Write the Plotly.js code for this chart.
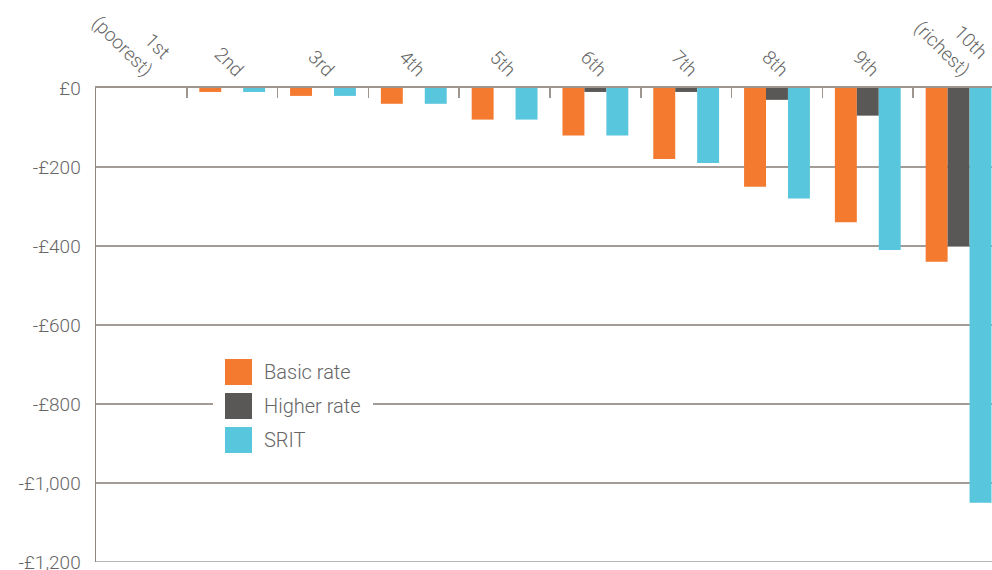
<!DOCTYPE html>
<html><head><meta charset="utf-8">
<script src="https://cdn.plot.ly/plotly-3.0.1.min.js"></script>
<style>html,body{margin:0;padding:0;background:#fff}#chart{width:992px;height:570px}</style>
</head><body><div id="chart"></div>
<script>
const deciles = ["1st<br>(poorest)","2nd","3rd","4th","5th","6th","7th","8th","9th","10th<br>(richest)"];
const basicRate = [0, -10, -20, -40, -80, -120, -180, -250, -340, -440];
const higherRate = [0, 0, 0, 0, 0, -10, -10, -30, -70, -400];
const srit = [0, -10, -20, -40, -80, -120, -190, -280, -410, -1050];
const seriesNames = ["Basic rate", "Higher rate", "SRIT"];
const seriesColors = ["#f47a30", "#5a5856", "#58c6dc"];
const yTickVals = [0, -200, -400, -600, -800, -1000, -1200];
const yTickText = ["£0", "-£200", "-£400", "-£600", "-£800", "-£1,000", "-£1,200"];

const seriesValues = [basicRate, higherRate, srit];
const traces = seriesValues.map((vals, i) => ({
  type: 'bar', x: deciles, y: vals, name: seriesNames[i],
  marker: {color: seriesColors[i]}, showlegend: false, hoverinfo: 'x+y'
}));

const W = 896, H = 474, L = 96, T = 88;
const px = v => (v - L) / W;
const py = v => (T + H - v) / H;
const shapes = [
  {type:'rect', xref:'paper', yref:'paper', x0:px(213), x1:px(373), y0:py(352), y1:py(460), fillcolor:'#fff', line:{width:0}, layer:'above'},
  {type:'line', xref:'paper', yref:'y', x0:0, x1:1, y0:-1200, y1:-1200, line:{color:'#a39b96', width:1.5}, layer:'below'}
];
const annotations = [];
seriesNames.forEach((n, i) => {
  const top = 359 + i * 34;
  shapes.push({type:'rect', xref:'paper', yref:'paper', x0:px(225), x1:px(252), y0:py(top), y1:py(top+26), fillcolor:seriesColors[i], line:{width:0}, layer:'above'});
  annotations.push({xref:'paper', yref:'paper', x:px(262), y:py(top+13), text:n, showarrow:false, xanchor:'left', yanchor:'middle', font:{size:20, color:'#666', family:'Roboto', weight:300}});
});

const layout = {
  width: 992, height: 570,
  margin: {l: L, r: 0, t: T, b: 8},
  paper_bgcolor: '#fff', plot_bgcolor: '#fff',
  barmode: 'group', bargap: 0.275, bargroupgap: 0,
  font: {family: 'Roboto', weight: 300, color: '#666', size: 19},
  xaxis: {
    type: 'category', side: 'top', range: [-0.5, 9.368],
    tickangle: 45, tickson: 'boundaries', ticks: 'inside', ticklen: 10, tickcolor: '#9e958f', tickwidth: 1.5,
    showline: true, linecolor: '#9e958f', linewidth: 2, showgrid: false,
    tickfont: {size: 19, color: '#666', family: 'Roboto', weight: 300}, automargin: false,
    ticklabelstandoff: -2, ticklabelshift: 10
  },
  yaxis: {
    range: [-1200, 0], tickvals: yTickVals, ticktext: yTickText,
    showgrid: true, gridcolor: '#a39b96', gridwidth: 1.5, zeroline: false,
    showline: true, linecolor: '#8f8580', linewidth: 1.5, ticks: '',
    tickfont: {size: 19, color: '#666', family: 'Roboto', weight: 300}, ticklabelstandoff: 10,
    ticklabeloverflow: 'allow', automargin: false
  },
  shapes: shapes, annotations: annotations, showlegend: false
};
Plotly.newPlot('chart', traces, layout, {staticPlot: true});
</script></body></html>
